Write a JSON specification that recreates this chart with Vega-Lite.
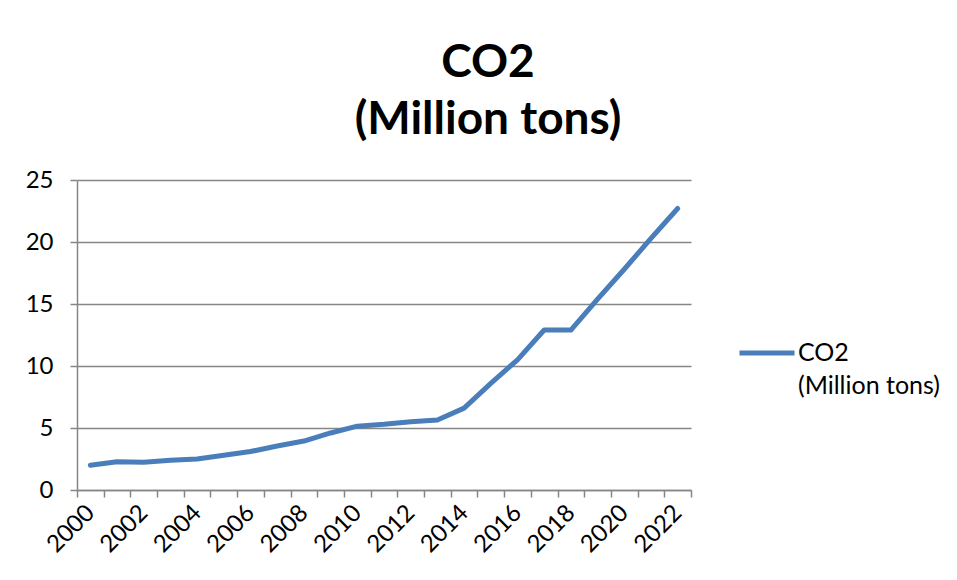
{
  "$schema": "https://vega.github.io/schema/vega-lite/v6.json",
  "width": 614,
  "height": 310,
  "autosize": {"type": "none"},
  "padding": {"left": 77, "top": 180, "right": 266, "bottom": 90},
  "background": "white",
  "title": {
    "text": ["CO2", "(Million tons)"],
    "font": "Lato",
    "fontSize": 46,
    "fontWeight": "bold",
    "color": "black",
    "anchor": "middle",
    "dx": 104,
    "offset": 24,
    "lineHeight": 57
  },
  "data": {
    "values": [
      {"year": 2000, "co2": 2.0, "series": "CO2 (Million tons)"},
      {"year": 2001, "co2": 2.28, "series": "CO2 (Million tons)"},
      {"year": 2002, "co2": 2.23, "series": "CO2 (Million tons)"},
      {"year": 2003, "co2": 2.4, "series": "CO2 (Million tons)"},
      {"year": 2004, "co2": 2.5, "series": "CO2 (Million tons)"},
      {"year": 2005, "co2": 2.8, "series": "CO2 (Million tons)"},
      {"year": 2006, "co2": 3.1, "series": "CO2 (Million tons)"},
      {"year": 2007, "co2": 3.55, "series": "CO2 (Million tons)"},
      {"year": 2008, "co2": 3.95, "series": "CO2 (Million tons)"},
      {"year": 2009, "co2": 4.6, "series": "CO2 (Million tons)"},
      {"year": 2010, "co2": 5.15, "series": "CO2 (Million tons)"},
      {"year": 2011, "co2": 5.3, "series": "CO2 (Million tons)"},
      {"year": 2012, "co2": 5.5, "series": "CO2 (Million tons)"},
      {"year": 2013, "co2": 5.65, "series": "CO2 (Million tons)"},
      {"year": 2014, "co2": 6.6, "series": "CO2 (Million tons)"},
      {"year": 2015, "co2": 8.6, "series": "CO2 (Million tons)"},
      {"year": 2016, "co2": 10.5, "series": "CO2 (Million tons)"},
      {"year": 2017, "co2": 12.9, "series": "CO2 (Million tons)"},
      {"year": 2018, "co2": 12.9, "series": "CO2 (Million tons)"},
      {"year": 2019, "co2": 15.4, "series": "CO2 (Million tons)"},
      {"year": 2020, "co2": 17.8, "series": "CO2 (Million tons)"},
      {"year": 2021, "co2": 20.3, "series": "CO2 (Million tons)"},
      {"year": 2022, "co2": 22.7, "series": "CO2 (Million tons)"}
    ]
  },
  "mark": {"type": "line", "strokeWidth": 5, "strokeCap": "round", "strokeJoin": "round"},
  "encoding": {
    "x": {
      "field": "year",
      "type": "ordinal",
      "bandPosition": 0.5,
      "scale": {"type": "band", "paddingInner": 0, "paddingOuter": 0},
      "axis": {
        "title": null,
        "labelAngle": -45,
        "labelAlign": "right",
        "labelBaseline": "middle",
        "labelExpr": "datum.value % 2 === 0 ? datum.label : ''",
        "labelOverlap": false,
        "tickBand": "extent",
        "tickSize": 7,
        "tickColor": "#868686",
        "tickWidth": 1.5,
        "domainColor": "#868686",
        "domainWidth": 1.5,
        "labelFont": "Lato",
        "labelFontSize": 24,
        "labelColor": "black",
        "labelPadding": 12,
        "grid": false
      }
    },
    "y": {
      "field": "co2",
      "type": "quantitative",
      "scale": {"domain": [0, 25], "nice": false},
      "axis": {
        "title": null,
        "values": [0, 5, 10, 15, 20, 25],
        "grid": true,
        "gridColor": "#868686",
        "gridWidth": 1.5,
        "tickSize": 7,
        "tickColor": "#868686",
        "tickWidth": 1.5,
        "domainColor": "#868686",
        "domainWidth": 1.5,
        "labelFont": "Lato",
        "labelFontSize": 24,
        "labelColor": "black",
        "labelPadding": 17
      }
    },
    "color": {
      "field": "series",
      "type": "nominal",
      "scale": {"range": ["#4A7EBB"]},
      "legend": {
        "title": null,
        "orient": "none",
        "legendX": 660,
        "legendY": 143,
        "symbolType": "stroke",
        "symbolSize": 3025,
        "symbolStrokeWidth": 5,
        "labelFont": "Lato",
        "labelFontSize": 25,
        "labelColor": "black",
        "labelLimit": 300,
        "labelOffset": 1,
        "labelBaseline": "middle",
        "labelExpr": "['CO2', '(Million tons)']",
        "encode": {"labels": {"update": {"lineHeight": {"value": 33}}}}
      }
    }
  },
  "config": {"view": {"stroke": null}}
}
